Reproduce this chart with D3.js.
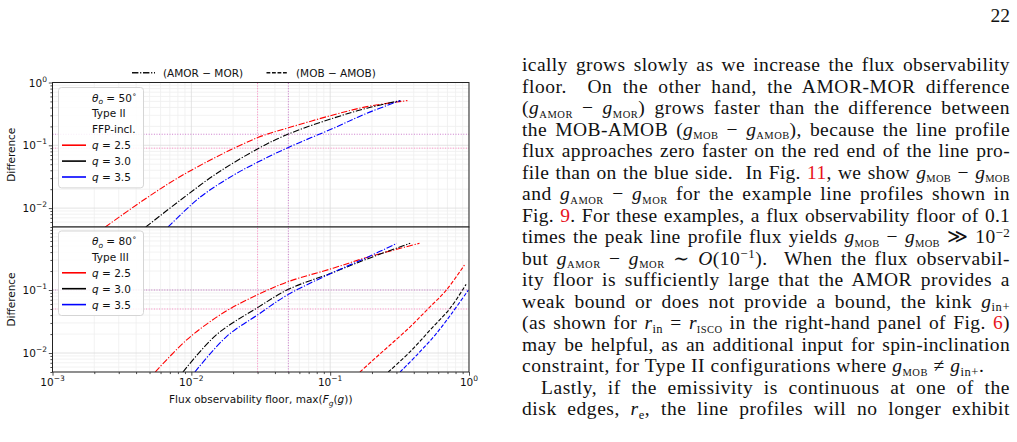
<!DOCTYPE html>
<html>
<head>
<meta charset="utf-8">
<script src="https://cdn.jsdelivr.net/npm/d3@7"></script>
<style>
  body { margin: 0; background: #fff; }
  svg { display: block; }
</style>
</head>
<body>
<svg id="page" width="1017" height="442"></svg>
<script>
// values: [flux floor, difference]
// top panel: theta_o = 50 deg, Type II, FFP-incl. -- (AMOR - MOR)
const topAmorQ25 = [[0.0024,0.005],[0.0045,0.0133],[0.00785,0.0295],[0.0152,0.0655],[0.0304,0.134],[0.05,0.19],[0.105,0.304],[0.184,0.413],[0.36,0.515]];
const topAmorQ30 = [[0.0047,0.005],[0.0083,0.0133],[0.0152,0.0355],[0.0304,0.089],[0.05,0.151],[0.105,0.27],[0.184,0.39],[0.32,0.515]];
const topAmorQ35 = [[0.0068,0.005],[0.0116,0.015],[0.0201,0.0334],[0.0304,0.0545],[0.05,0.0925],[0.105,0.186],[0.184,0.324],[0.32,0.515]];

// bottom panel: theta_o = 80 deg, Type III -- (AMOR - MOR)
const botAmorQ25 = [[0.0055,0.005],[0.0093,0.0163],[0.017,0.0435],[0.0304,0.0853],[0.05,0.136],[0.105,0.222],[0.184,0.329],[0.44,0.551]];
const botAmorQ30 = [[0.0087,0.005],[0.0152,0.0196],[0.0304,0.0535],[0.05,0.1025],[0.105,0.19],[0.184,0.31],[0.377,0.551]];
const botAmorQ35 = [[0.0106,0.005],[0.018,0.0184],[0.0304,0.041],[0.05,0.0853],[0.105,0.19],[0.184,0.329],[0.302,0.551]];
// bottom panel -- (MOB - AMOB)
const botMobQ25 = [[0.164,0.005],[0.21,0.0082],[0.27,0.0134],[0.377,0.0261],[0.505,0.0499],[0.684,0.0989],[0.927,0.249]];
const botMobQ30 = [[0.262,0.005],[0.377,0.0105],[0.525,0.0232],[0.731,0.0513],[0.953,0.123]];
const botMobQ35 = [[0.319,0.005],[0.421,0.0093],[0.57,0.0193],[0.752,0.0427],[0.99,0.1]];

const qLabels = ["2.5", "3.0", "3.5"];
const qColors = ["red", "black", "blue"];

// dotted guide lines
const guideX = [0.03, 0.05];
const guideTopY = [0.09, 0.15];
const guideBotY = [0.05, 0.1];
const guideColors = ["#ff8cc6", "#cc7acc"];

const xMajor = [1e-3, 1e-2, 1e-1, 1];
const xExp = ["\u22123", "\u22122", "\u22121", "0"];
const yMajorTop = [1e-2, 1e-1, 1];
const yMajorBot = [1e-2, 1e-1];

const DASHDOT = "6.4,1.7,1.2,1.7";
const DASHED = "3.8,1.7";

const svg = d3.select("#page");
svg.append("rect").attr("width", 1017).attr("height", 442).attr("fill", "#fff");

const chart = svg.append("g").attr("font-family", "'DejaVu Sans', sans-serif").attr("font-size", 10.5);

const x = d3.scaleLog().domain([1e-3, 1]).range([52.5, 469]);
const yTop = d3.scaleLog().domain([0.005, 1]).range([227, 82.5]);
const yBot = d3.scaleLog().domain([0.005, 1]).range([372, 227]);

let clipId = 0;
function panel(y, series, guideY, yMajor, legendRows, legendTop, showXLabels) {
  const [y0, y1] = y.range();
  const g = chart.append("g");
  const id = "clip" + (clipId++);
  g.append("clipPath").attr("id", id).append("rect")
    .attr("x", x.range()[0]).attr("y", y1)
    .attr("width", x.range()[1] - x.range()[0]).attr("height", y0 - y1);
  g.append("rect").attr("x", x.range()[0]).attr("y", y1)
    .attr("width", x.range()[1] - x.range()[0]).attr("height", y0 - y1).attr("fill", "#fff");

  const xMinor = x.ticks().filter(d => !xMajor.some(m => Math.abs(m - d) < 1e-12));
  const yMinor = y.ticks().filter(d => !yMajorTop.some(m => Math.abs(m - d) < 1e-12));

  // grid
  const grid = g.append("g").attr("clip-path", `url(#${id})`);
  grid.selectAll(".gxm").data(xMinor).join("line")
    .attr("x1", d => x(d)).attr("x2", d => x(d)).attr("y1", y0).attr("y2", y1)
    .attr("stroke", "#efefef").attr("stroke-width", 0.8);
  grid.selectAll(".gym").data(yMinor).join("line")
    .attr("x1", x.range()[0]).attr("x2", x.range()[1]).attr("y1", d => y(d)).attr("y2", d => y(d))
    .attr("stroke", "#efefef").attr("stroke-width", 0.8);
  grid.selectAll(".gx").data(xMajor).join("line")
    .attr("x1", d => x(d)).attr("x2", d => x(d)).attr("y1", y0).attr("y2", y1)
    .attr("stroke", "#dcdcdc").attr("stroke-width", 0.8);
  grid.selectAll(".gy").data(yMajorTop).join("line")
    .attr("x1", x.range()[0]).attr("x2", x.range()[1]).attr("y1", d => y(d)).attr("y2", d => y(d))
    .attr("stroke", "#dcdcdc").attr("stroke-width", 0.8);

  // guides
  const gd = g.append("g").attr("clip-path", `url(#${id})`);
  gd.selectAll(".vx").data(guideX).join("line")
    .attr("x1", d => x(d)).attr("x2", d => x(d)).attr("y1", y0).attr("y2", y1)
    .attr("stroke", (d, i) => guideColors[i]).attr("stroke-width", 1).attr("stroke-dasharray", "1,1.6");
  gd.selectAll(".hy").data(guideY).join("line")
    .attr("x1", x.range()[0]).attr("x2", x.range()[1]).attr("y1", d => y(d)).attr("y2", d => y(d))
    .attr("stroke", (d, i) => guideColors[i]).attr("stroke-width", 1).attr("stroke-dasharray", "1,1.6");

  // curves
  const line = d3.line().x(d => x(d[0])).y(d => y(d[1])).curve(d3.curveCatmullRom.alpha(0.5));
  const cg = g.append("g").attr("clip-path", `url(#${id})`);
  series.forEach(s => {
    cg.append("path").attr("d", line(s.data)).attr("fill", "none")
      .attr("stroke", s.color).attr("stroke-width", 1.1)
      .attr("stroke-dasharray", s.dash);
  });

  // axes
  const ax = g.append("g").attr("transform", `translate(${x.range()[0]},0)`);
  ax.call(d3.axisLeft(y).tickValues(yMajor).tickSize(3.7).tickFormat(""));
  const axm = g.append("g").attr("transform", `translate(${x.range()[0]},0)`);
  axm.call(d3.axisLeft(y).tickValues(yMinor).tickSize(2.1).tickFormat(""));
  [ax, axm].forEach(a => { a.select(".domain").remove(); a.selectAll("line").attr("stroke", "#222").attr("stroke-width", 0.8); });

  yMajor.forEach(v => {
    const e = Math.round(Math.log10(v));
    const t = g.append("text").attr("x", 47).attr("y", y(v) + 4).attr("text-anchor", "end").attr("fill", "#111");
    t.append("tspan").text("10");
    t.append("tspan").attr("dy", -5).attr("font-size", 7.5).text(e === 0 ? "0" : "\u2212" + (-e));
  });

  if (showXLabels) {
    const bx = g.append("g").attr("transform", `translate(0,${y0})`);
    bx.call(d3.axisBottom(x).tickValues(xMajor).tickSize(3.7).tickFormat(""));
    const bxm = g.append("g").attr("transform", `translate(0,${y0})`);
    bxm.call(d3.axisBottom(x).tickValues(xMinor).tickSize(2.1).tickFormat(""));
    [bx, bxm].forEach(a => { a.select(".domain").remove(); a.selectAll("line").attr("stroke", "#222").attr("stroke-width", 0.8); });
    xMajor.forEach((v, i) => {
      const t = g.append("text").attr("x", x(v)).attr("y", y0 + 14).attr("text-anchor", "middle").attr("fill", "#111");
      t.append("tspan").text("10");
      t.append("tspan").attr("dy", -5).attr("font-size", 7.5).text(xExp[i]);
    });
  }

  // spine
  g.append("rect").attr("x", x.range()[0]).attr("y", y1)
    .attr("width", x.range()[1] - x.range()[0]).attr("height", y0 - y1)
    .attr("fill", "none").attr("stroke", "#222").attr("stroke-width", 1);

  // y label
  g.append("text").attr("transform", `translate(15,${(y0 + y1) / 2}) rotate(-90)`)
    .attr("text-anchor", "middle").attr("fill", "#111").text("Difference");

  // inner legend
  const rowH = 15.9;
  const lg = g.append("g");
  lg.append("rect").attr("x", 58.5).attr("y", legendTop).attr("width", 85)
    .attr("height", legendRows.length * rowH + 5).attr("rx", 3)
    .attr("fill", "#fff").attr("fill-opacity", 0.85).attr("stroke", "#d0d0d0").attr("stroke-width", 0.9);
  legendRows.forEach((r, i) => {
    const cy = legendTop + 10 + i * rowH;
    if (r.color) {
      lg.append("line").attr("x1", 62).attr("x2", 86).attr("y1", cy).attr("y2", cy)
        .attr("stroke", r.color).attr("stroke-width", 1.6);
    }
    const t = lg.append("text").attr("x", 92).attr("y", cy + 4).attr("fill", "#111");
    r.parts.forEach(p => {
      const ts = t.append("tspan").text(p.t);
      if (p.i) ts.attr("font-style", "italic");
      if (p.sub) ts.attr("font-size", 7.5).attr("dy", 2.5);
      if (p.back) ts.attr("dy", p.back);
      if (p.sup) ts.attr("font-size", 7.5).attr("dy", -5);
    });
  });
}

function qRows() {
  return qLabels.map((q, i) => ({ color: qColors[i], parts: [{ t: "q", i: true }, { t: " = " + q }] }));
}

panel(yTop,
  [topAmorQ25, topAmorQ30, topAmorQ35].map((d, i) => ({ data: d, color: qColors[i], dash: DASHDOT })),
  guideTopY, yMajorTop,
  [{ parts: [{ t: "\u03b8", i: true }, { t: "o", i: true, sub: true }, { t: " = 50", back: -2.5 }, { t: "\u2218", sup: true }] },
   { parts: [{ t: "Type II" }] },
   { parts: [{ t: "FFP-incl." }] }].concat(qRows()),
  87.5, false);

panel(yBot,
  [botAmorQ25, botAmorQ30, botAmorQ35].map((d, i) => ({ data: d, color: qColors[i], dash: DASHDOT }))
    .concat([botMobQ25, botMobQ30, botMobQ35].map((d, i) => ({ data: d, color: qColors[i], dash: DASHED }))),
  guideBotY, yMajorBot,
  [{ parts: [{ t: "\u03b8", i: true }, { t: "o", i: true, sub: true }, { t: " = 80", back: -2.5 }, { t: "\u2218", sup: true }] },
   { parts: [{ t: "Type III" }] }].concat(qRows()),
  231, true);

// x label
const xl = chart.append("text").attr("x", (x.range()[0] + x.range()[1]) / 2).attr("y", 403)
  .attr("text-anchor", "middle").attr("fill", "#111");
xl.append("tspan").text("Flux observability floor, max(");
xl.append("tspan").attr("font-style", "italic").text("F");
xl.append("tspan").attr("font-style", "italic").attr("font-size", 7.5).attr("dy", 2.5).text("g");
xl.append("tspan").attr("dy", -2.5).text("(");
xl.append("tspan").attr("font-style", "italic").text("g");
xl.append("tspan").text("))");

// top legend (line styles)
const tl = chart.append("g");
tl.append("line").attr("x1", 132).attr("x2", 155).attr("y1", 72.7).attr("y2", 72.7)
  .attr("stroke", "#111").attr("stroke-width", 1.5).attr("stroke-dasharray", DASHDOT);
tl.append("text").attr("x", 163).attr("y", 76.5).attr("fill", "#111").text("(AMOR \u2212 MOR)");
tl.append("line").attr("x1", 266.5).attr("x2", 288).attr("y1", 72.7).attr("y2", 72.7)
  .attr("stroke", "#111").attr("stroke-width", 1.5).attr("stroke-dasharray", DASHED);
tl.append("text").attr("x", 296).attr("y", 76.5).attr("fill", "#111").text("(MOB \u2212 AMOB)");

// ---- body text column ----
const bodyLines = [
  { s: "ically grows slowly as we increase the flux observability" },
  { s: "floor.  On the other hand, the AMOR-MOR difference" },
  { s: "(*g*_{AMOR} \u2212 *g*_{MOR}) grows faster than the difference between" },
  { s: "the MOB-AMOB (*g*_{MOB} \u2212 *g*_{AMOB}), because the line profile" },
  { s: "flux approaches zero faster on the red end of the line pro-" },
  { s: "file than on the blue side.  In Fig. [11], we show *g*_{MOB} \u2212 *g*_{MOB}" },
  { s: "and *g*_{AMOR} \u2212 *g*_{MOR} for the example line profiles shown in" },
  { s: "Fig. [9]. For these examples, a flux observability floor of 0.1" },
  { s: "times the peak line profile flux yields *g*_{MOB} \u2212 *g*_{MOB} \u226b 10^{\u22122}" },
  { s: "but *g*_{AMOR} \u2212 *g*_{MOR} \u223c *O*(10^{\u22121}).  When the flux observabil-" },
  { s: "ity floor is sufficiently large that the AMOR provides a" },
  { s: "weak bound or does not provide a bound, the kink *g*_{in+}" },
  { s: "(as shown for *r*_{in} = *r*_{ISCO} in the right-hand panel of Fig. [6])" },
  { s: "may be helpful, as an additional input for spin-inclination" },
  { s: "constraint, for Type II configurations where *g*_{MOB} \u2260 *g*_{in+}.", last: true },
  { s: "Lastly, if the emissivity is continuous at one of the", indent: true },
  { s: "disk edges, *r*_{e}, the line profiles will no longer exhibit" }
];

const textLeft = 522, textRight = 1010;
const body = svg.append("g").attr("font-family", "'Liberation Serif', 'DejaVu Serif', serif")
  .attr("font-size", 19.5).attr("fill", "#111");

bodyLines.forEach((ln, i) => {
  const x0 = ln.indent ? textLeft + 19 : textLeft;
  const t = body.append("text").attr("x", x0).attr("y", 71 + i * 21.5).attr("xml:space", "preserve");
  let pending = 0;
  ln.s.split(/(\*[^*]+\*|_\{[^}]+\}|\^\{[^}]+\}|\[[^\]]+\])/).filter(s => s.length).forEach(tok => {
    let ts;
    if (tok.startsWith("*")) {
      ts = t.append("tspan").attr("font-style", "italic").text(tok.slice(1, -1));
    } else if (tok.startsWith("_{")) {
      const s = tok.slice(2, -1);
      const caps = s === s.toUpperCase() && /[A-Z]/.test(s);
      ts = t.append("tspan").attr("font-size", caps ? 10.5 : 12.5).text(s);
      ts.attr("dy", 3.5 + pending); pending = -3.5; return;
    } else if (tok.startsWith("^{")) {
      ts = t.append("tspan").attr("font-size", 13).text(tok.slice(2, -1));
      ts.attr("dy", -6.5 + pending); pending = 6.5; return;
    } else if (tok.startsWith("[")) {
      ts = t.append("tspan").attr("fill", "#e8141c").text(tok.slice(1, -1));
    } else {
      ts = t.append("tspan").text(tok);
    }
    if (pending) { ts.attr("dy", pending); pending = 0; }
  });
  // justify: share the free room between letter spacing and word spacing
  const w0 = t.node().getComputedTextLength();
  const nChars = t.text().length;
  const spaces = (t.text().match(/ /g) || []).length;
  const room = textRight - x0 - w0;
  if (ln.last) {
    t.attr("letter-spacing", 0.55);
  } else {
    const ls = Math.max(0, Math.min(0.55, room * 0.5 / nChars));
    t.attr("letter-spacing", ls);
    const w1 = t.node().getComputedTextLength();
    if (spaces) t.attr("word-spacing", (textRight - x0 - w1) / spaces);
  }
});

svg.append("text").attr("x", 1010).attr("y", 22).attr("text-anchor", "end")
  .attr("font-family", "'Liberation Serif', serif").attr("font-size", 19.5).attr("fill", "#111").text("22");
</script>
</body>
</html>
